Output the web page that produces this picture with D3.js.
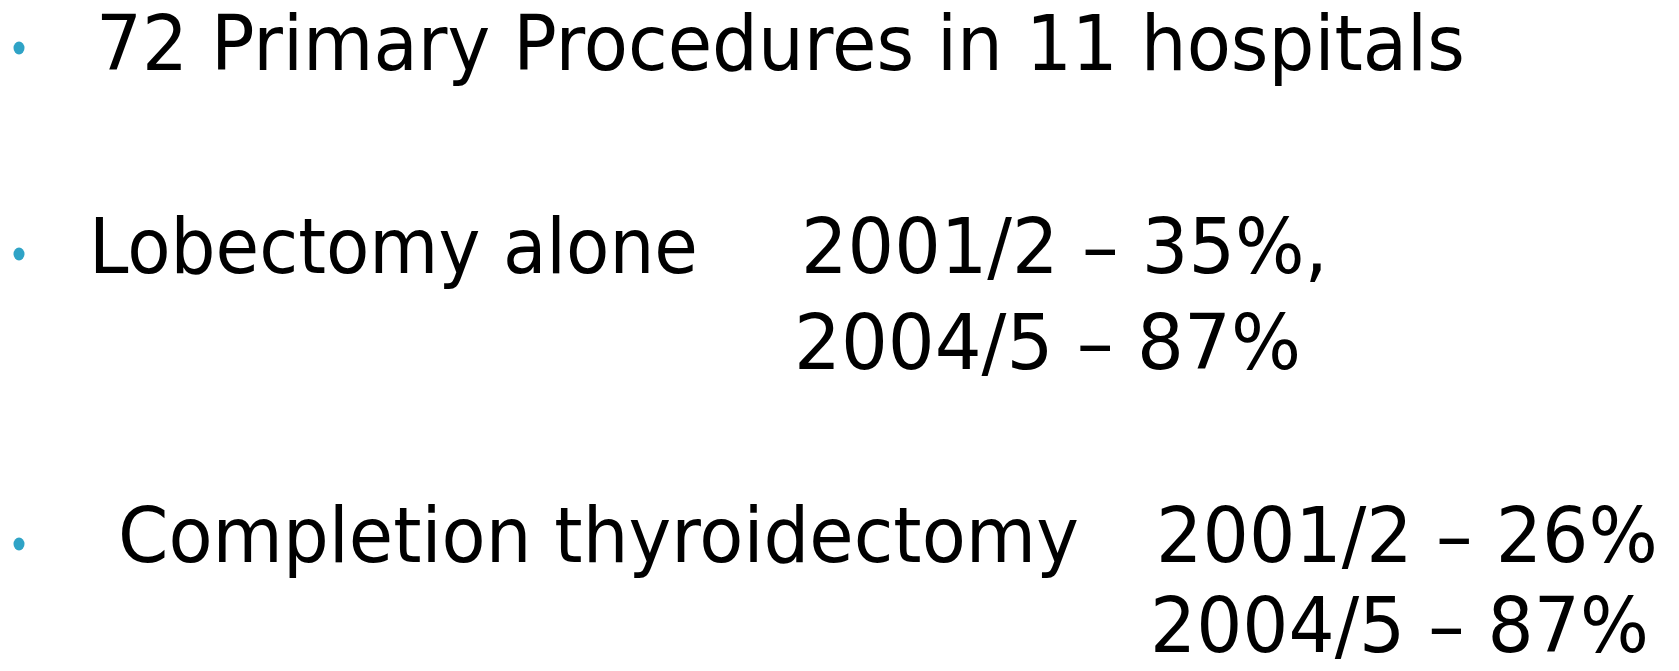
<!DOCTYPE html>
<html>
<head>
<meta charset="utf-8">
<script src="https://cdn.jsdelivr.net/npm/d3@7"></script>
<style>
  body { margin: 0; background: #fff; }
  svg text { font-family: "DejaVu Sans", sans-serif; fill: #000; }
</style>
</head>
<body>
<div id="graphic"></div>
<script>
(function() {
  var width = 1679, height = 671;

  /*** DATA ***/
  var bulletLabels = ["72 Primary Procedures in 11 hospitals", "Lobectomy alone", "Completion thyroidectomy"];
  var lobectomyRows = ["2001/2 \u2013 35%,", "2004/5 \u2013 87%"];
  var completionRows = ["2001/2 \u2013 26%", "2004/5 \u2013 87%"];

  var bulletColor = "#2fa3c6";
  var fontSize = 77;

  var svg = d3.select("#graphic")
    .append("svg")
    .attr("width", width)
    .attr("height", height);

  // bullets (one per item) and text rows: [x, baseline, width]
  var bulletY = [48, 254, 544];
  var labelPos = [[96, 70, 1369], [89, 273, 609], [118, 562, 961]];
  var lobPos = [[801, 273, 527], [794, 369, 507]];
  var compPos = [[1156, 562, 502], [1150, 652, 499]];

  svg.selectAll(".bullet")
    .data(bulletY).enter().append("ellipse")
    .attr("class", "bullet")
    .attr("cx", 19)
    .attr("cy", function(d) { return d; })
    .attr("rx", 5.5)
    .attr("ry", 6.5)
    .attr("fill", bulletColor);

  // text squeezed horizontally to the width seen in the slide
  function rows(data, pos, cls) {
    svg.selectAll("." + cls)
      .data(data).enter().append("text")
      .attr("class", cls)
      .style("font-size", fontSize + "px")
      .text(function(d) { return d; })
      .attr("transform", function(d, i) {
        var sx = pos[i][2] / this.getComputedTextLength();
        return "translate(" + pos[i][0] + "," + pos[i][1] + ") scale(" + sx + ",1)";
      });
  }
  rows(bulletLabels, labelPos, "label");
  rows(lobectomyRows, lobPos, "lobRow");
  rows(completionRows, compPos, "compRow");
})();
</script>
</body>
</html>
